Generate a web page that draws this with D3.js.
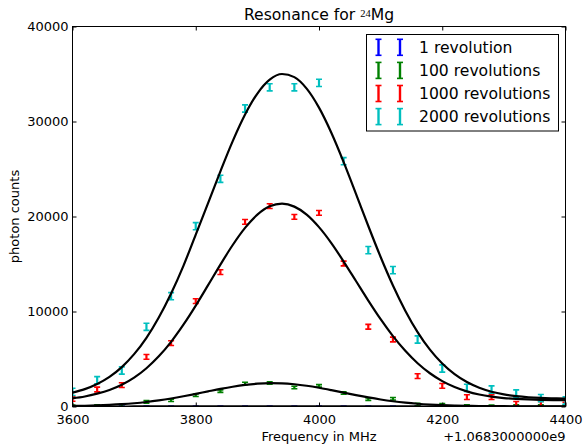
<!DOCTYPE html>
<html>
<head>
<meta charset="utf-8">
<script src="https://cdn.jsdelivr.net/npm/d3@7"></script>
<style>
body { margin: 0; background: #fff; }
text { font-family: "DejaVu Sans", sans-serif; fill: #000; }
</style>
</head>
<body>
<div id="chart"></div>
<script>
// measured points (MHz, shown with offset +1.0683000000e9)
var freq = [3600, 3640, 3680, 3720, 3760, 3800, 3840, 3880, 3920, 3960, 4000,
            4040, 4080, 4120, 4160, 4200, 4240, 4280, 4320, 4360, 4400];
var counts1 = [2, 1, 3, 4, 6, 9, 10, 15, 13, 16, 14, 12, 7, 5, 4, 2, 2, 1, 1, 0, 1];
var counts100 = [30, 60, 90, 490, 650, 1190, 1620, 2420, 2470, 2000, 2170,
                 1420, 770, 810, 210, 180, 60, 30, 60, 40, 20];
var counts1000 = [810, 1790, 2250, 5230, 6670, 11090, 14140, 19440, 21090, 19960, 20380,
                  15050, 8390, 7050, 3190, 2170, 980, 980, 280, 280, 200];
var counts2000 = [1540, 2770, 3790, 8390, 11610, 18980, 23970, 31370, 33600, 33600, 34070,
                  25820, 16460, 14350, 7050, 4000, 1960, 1790, 1370, 880, 630];
var errors = [10, 130, 250, 380];

// fitted curves
var fitFreq = [3600, 3620, 3640, 3660, 3680, 3700, 3720, 3740, 3760, 3780, 3800,
               3820, 3840, 3860, 3880, 3900, 3920, 3940, 3960, 3980, 4000,
               4020, 4040, 4060, 4080, 4100, 4120, 4140, 4160, 4180, 4200,
               4220, 4240, 4260, 4280, 4300, 4320, 4340, 4360, 4380, 4400];
var fit1 = [1, 1, 1, 2, 2, 3, 4, 5, 6, 7, 9, 10, 12, 13, 14, 15, 15, 15, 15, 14, 13,
            12, 10, 9, 7, 6, 5, 4, 3, 2, 2, 1, 1, 1, 1, 1, 1, 1, 1, 1, 1];
var fit100 = [56, 80, 116, 169, 243, 344, 477, 644, 844, 1075, 1329, 1592, 1850, 2082, 2271,
              2400, 2458, 2438, 2344, 2183, 1970, 1723, 1460, 1200, 956, 740, 556, 406, 290,
              203, 140, 96, 67, 48, 37, 30, 26, 23, 22, 21, 20];
var fit1000 = [850, 1050, 1350, 1740, 2290, 3040, 4030, 5280, 6810, 8610, 10620, 12770, 14940,
               17000, 18800, 20190, 21070, 21350, 21040, 20200, 18880, 17200, 15260, 13210,
               11150, 9190, 7410, 5860, 4550, 3500, 2670, 2050, 1590, 1260, 1040, 890, 800,
               740, 700, 680, 670];
var fit2000 = [1460, 1830, 2370, 3120, 4150, 5510, 7230, 9370, 11900, 14810, 18100, 21400,
               24750, 27930, 30730, 32940, 34400, 35000, 34670, 33460, 31460, 28820, 25730,
               22390, 19000, 15740, 12740, 10090, 7830, 5980, 4520, 3400, 2570, 1970, 1550,
               1270, 1090, 970, 900, 860, 830];

var seriesNames = ["1 revolution", "100 revolutions", "1000 revolutions", "2000 revolutions"];
var xTicks = [3600, 3800, 4000, 4200, 4400];
var yTicks = [0, 10000, 20000, 30000, 40000];

var colors = ["#0000ff", "#008000", "#ff0000", "#00bfbf"];
var allCounts = [counts1, counts100, counts1000, counts2000];
var allFits = [fit1, fit100, fit1000, fit2000];

var W = 585, H = 445;
var pLeft = 72.5, pRight = 565.5, pTop = 26.5, pBottom = 406.5;

var svg = d3.select("#chart")
  .append("svg")
    .attr("width", W)
    .attr("height", H);

var x = d3.scaleLinear().domain([3600, 4400]).range([pLeft, pRight]);
var y = d3.scaleLinear().domain([0, 40000]).range([pBottom, pTop]);

svg.append("clipPath")
    .attr("id", "plotclip")
  .append("rect")
    .attr("x", pLeft).attr("y", pTop)
    .attr("width", pRight - pLeft).attr("height", pBottom - pTop);

var plot = svg.append("g").attr("clip-path", "url(#plotclip)");

// error bars
allCounts.forEach(function(vals, s) {
  var g = plot.append("g").attr("stroke", colors[s]);
  freq.forEach(function(f, i) {
    var cx = x(f), lo = y(vals[i] - errors[s]), hi = y(vals[i] + errors[s]);
    g.append("line")
      .attr("x1", cx).attr("x2", cx).attr("y1", lo).attr("y2", hi)
      .attr("stroke-width", 2.2);
    [lo, hi].forEach(function(yy) {
      g.append("line")
        .attr("x1", cx - 3).attr("x2", cx + 3).attr("y1", yy).attr("y2", yy)
        .attr("stroke-width", 1.6);
    });
  });
});

// fit curves
var line = d3.line()
  .x(function(d, i) { return x(fitFreq[i]); })
  .y(function(d) { return y(d); })
  .curve(d3.curveMonotoneX);

allFits.forEach(function(vals) {
  plot.append("path")
    .datum(vals)
    .attr("fill", "none")
    .attr("stroke", "#000")
    .attr("stroke-width", 2.2)
    .attr("d", line);
});

// axes, ticks pointing inward
svg.append("g")
  .attr("transform", "translate(0," + pBottom + ")")
  .call(d3.axisBottom(x).tickValues(xTicks).tickSizeInner(-4).tickSizeOuter(0).tickPadding(8)
    .tickFormat(d3.format("d")));
svg.append("g")
  .attr("transform", "translate(0," + pTop + ")")
  .call(d3.axisTop(x).tickValues(xTicks).tickSizeInner(-4).tickSizeOuter(0).tickFormat(""));
svg.append("g")
  .attr("transform", "translate(" + pLeft + ",0)")
  .call(d3.axisLeft(y).tickValues(yTicks).tickSizeInner(-4).tickSizeOuter(0).tickPadding(4)
    .tickFormat(d3.format("d")));
svg.append("g")
  .attr("transform", "translate(" + pRight + ",0)")
  .call(d3.axisRight(y).tickValues(yTicks).tickSizeInner(-4).tickSizeOuter(0).tickFormat(""));

svg.selectAll(".tick text")
  .style("font-size", "13px")
  .style("font-family", "DejaVu Sans");
svg.selectAll(".tick line").attr("stroke", "#000");
svg.selectAll(".domain").remove();

svg.append("rect")
  .attr("x", pLeft).attr("y", pTop)
  .attr("width", pRight - pLeft).attr("height", pBottom - pTop)
  .attr("fill", "none")
  .attr("stroke", "#000")
  .attr("stroke-width", 1);

// labels
svg.append("text")
  .attr("x", (pLeft + pRight) / 2)
  .attr("y", 441)
  .attr("text-anchor", "middle")
  .style("font-size", "13px")
  .text("Frequency in MHz");

svg.append("text")
  .attr("x", pRight)
  .attr("y", 441)
  .attr("text-anchor", "end")
  .style("font-size", "13px")
  .text("+1.0683000000e9");

svg.append("text")
  .attr("transform", "translate(19," + (pTop + pBottom) / 2 + ") rotate(-90)")
  .attr("text-anchor", "middle")
  .style("font-size", "13px")
  .text("photon counts");

var title = svg.append("text")
  .attr("x", (pLeft + pRight) / 2)
  .attr("y", 20)
  .attr("text-anchor", "middle")
  .style("font-size", "15.6px");
title.append("tspan").text("Resonance for ");
title.append("tspan")
  .attr("dy", -3.5)
  .style("font-family", "Liberation Serif")
  .style("font-size", "10.5px")
  .text("24");
title.append("tspan").attr("dy", 3.5).text("Mg");

// legend
var legend = svg.append("g");
legend.append("rect")
  .attr("x", 366.5).attr("y", 34.5)
  .attr("width", 192).attr("height", 96.5)
  .attr("fill", "#fff")
  .attr("stroke", "#000")
  .attr("stroke-width", 1);

seriesNames.forEach(function(name, s) {
  var cy = 47.3 + s * 23.1;
  [378.5, 400].forEach(function(mx) {
    legend.append("line")
      .attr("x1", mx).attr("x2", mx).attr("y1", cy - 8).attr("y2", cy + 8)
      .attr("stroke", colors[s]).attr("stroke-width", 2.4);
    [cy - 8, cy + 8].forEach(function(yy) {
      legend.append("line")
        .attr("x1", mx - 3).attr("x2", mx + 3).attr("y1", yy).attr("y2", yy)
        .attr("stroke", colors[s]).attr("stroke-width", 1.6);
    });
  });
  legend.append("text")
    .attr("x", 419)
    .attr("y", cy)
    .attr("dy", "0.35em")
    .style("font-size", "15.6px")
    .text(name);
});
</script>
</body>
</html>
